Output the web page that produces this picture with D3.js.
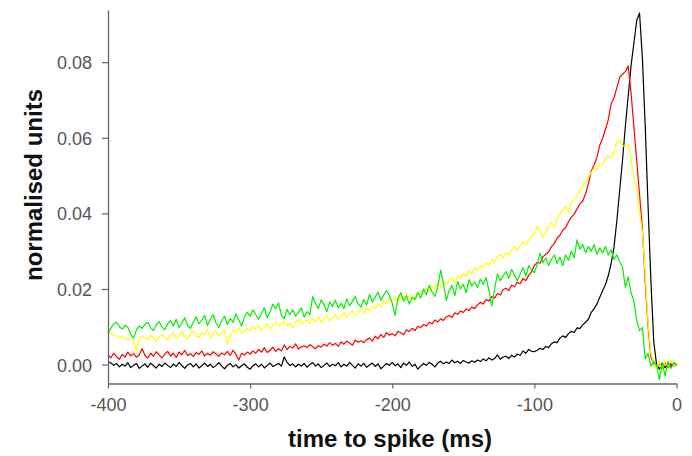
<!DOCTYPE html>
<html>
<head>
<meta charset="utf-8">
<script src="https://cdn.jsdelivr.net/npm/d3@7"></script>
<style>
  html, body { margin: 0; padding: 0; background: #fff; }
  svg { display: block; font-family: "Liberation Sans", Arial, sans-serif; }
</style>
</head>
<body>
<svg id="chart" width="692" height="456"></svg>
<script>
// Spike-triggered averages, 2 ms bins from -400 ms to 0 ms
const binStart = -400, binEnd = 0, binWidth = 2;

const blackTrace = [
  .0008,.0004,-.0002,.0003,-.0006,.0001,-.0004,.0005,-.0008,-.0002,
  .0003,-.0010,-.0004,.0002,-.0007,.0004,-.0003,-.0009,.0001,-.0005,
  .0004,-.0002,-.0008,.0002,-.0005,.0006,-.0003,-.0010,-.0001,.0003,
  -.0006,.0002,-.0009,-.0003,.0004,-.0005,.0001,-.0008,-.0002,.0005,
  -.0004,-.0011,-.0002,.0003,-.0006,.0000,-.0009,-.0003,.0002,-.0007,
  -.0012,-.0003,.0002,-.0006,.0001,-.0009,-.0002,.0004,-.0005,-.0001,
  .0003,-.0004,.0020,.0006,-.0003,.0002,-.0006,.0001,-.0004,.0003,
  -.0007,.0000,.0005,-.0004,.0002,-.0008,-.0002,.0004,-.0005,.0001,
  -.0003,.0005,-.0006,.0001,-.0004,.0006,-.0002,-.0009,.0002,-.0004,
  .0003,-.0007,-.0001,.0004,-.0005,.0002,-.0011,-.0004,.0003,-.0002,
  .0006,-.0003,.0002,-.0008,.0004,-.0002,.0007,-.0005,.0001,-.0012,
  -.0004,.0003,-.0002,.0006,.0001,-.0006,.0004,.0009,.0002,.0007,
  .0003,.0012,.0005,.0009,.0003,.0011,.0007,.0004,.0010,.0006,
  .0012,.0008,.0015,.0010,.0018,.0012,.0016,.0026,.0014,.0020,
  .0022,.0016,.0025,.0020,.0028,.0024,.0036,.0030,.0040,.0035,
  .0034,.0038,.0043,.0040,.0048,.0045,.0055,.0060,.0058,.0070,
  .0076,.0072,.0082,.0088,.0085,.0097,.0095,.0105,.0112,.0120,
  .0138,.0148,.0160,.0178,.0195,.0212,.0235,.0268,.0310,.0380,
  .0460,.0540,.0630,.0710,.0790,.0850,.0910,.0930,.0810,.0630,
  .0420,.0220,.0060,.0000,-.0012,.0004,-.0008,.0002,-.0005,.0003,
  -.0002
];

const redTrace = [
  .0026,.0018,.0030,.0021,.0014,.0027,.0020,.0033,.0023,.0029,
  .0019,.0026,.0042,.0024,.0017,.0030,.0022,.0034,.0025,.0018,
  .0028,.0035,.0022,.0030,.0019,.0033,.0026,.0038,.0024,.0029,
  .0021,.0032,.0027,.0036,.0023,.0030,.0025,.0034,.0028,.0022,
  .0031,.0026,.0035,.0024,.0038,.0027,.0012,.0030,.0025,.0033,
  .0028,.0036,.0030,.0040,.0033,.0045,.0032,.0038,.0046,.0035,
  .0042,.0036,.0052,.0040,.0048,.0044,.0055,.0041,.0047,.0050,
  .0045,.0053,.0047,.0042,.0050,.0046,.0054,.0049,.0058,.0051,
  .0056,.0048,.0060,.0054,.0062,.0057,.0051,.0065,.0059,.0063,
  .0058,.0066,.0070,.0062,.0075,.0068,.0080,.0072,.0085,.0078,
  .0082,.0076,.0088,.0084,.0079,.0092,.0087,.0096,.0090,.0101,
  .0098,.0106,.0102,.0112,.0108,.0118,.0113,.0121,.0117,.0126,
  .0130,.0125,.0137,.0133,.0142,.0138,.0147,.0143,.0152,.0148,
  .0158,.0165,.0160,.0172,.0168,.0180,.0176,.0188,.0184,.0198,
  .0202,.0196,.0210,.0206,.0218,.0214,.0228,.0222,.0236,.0245,
  .0262,.0270,.0268,.0285,.0292,.0298,.0312,.0320,.0335,.0342,
  .0356,.0362,.0378,.0390,.0398,.0412,.0425,.0432,.0452,.0478,
  .0512,.0528,.0548,.0580,.0598,.0622,.0648,.0690,.0705,.0732,
  .0760,.0768,.0775,.0790,.0720,.0630,.0540,.0450,.0360,.0220,
  .0100,.0020,.0002,-.0010,.0004,-.0015,.0006,-.0008,.0003,-.0004,
  .0002
];

const yellowTrace = [
  .0086,.0082,.0078,.0075,.0071,.0074,.0069,.0066,.0070,.0064,
  .0035,.0068,.0075,.0072,.0066,.0078,.0070,.0062,.0074,.0080,
  .0072,.0065,.0078,.0084,.0070,.0076,.0088,.0074,.0068,.0082,
  .0090,.0076,.0072,.0085,.0079,.0092,.0070,.0083,.0088,.0075,
  .0086,.0094,.0055,.0072,.0091,.0085,.0098,.0083,.0090,.0096,
  .0088,.0100,.0094,.0104,.0090,.0098,.0108,.0095,.0102,.0112,
  .0100,.0108,.0115,.0102,.0110,.0098,.0112,.0120,.0106,.0114,
  .0118,.0108,.0122,.0114,.0126,.0112,.0120,.0130,.0116,.0124,
  .0132,.0120,.0128,.0138,.0125,.0134,.0142,.0130,.0138,.0146,
  .0136,.0150,.0142,.0154,.0148,.0160,.0152,.0168,.0160,.0174,
  .0170,.0178,.0165,.0182,.0174,.0188,.0176,.0170,.0184,.0190,
  .0186,.0196,.0202,.0192,.0208,.0200,.0214,.0206,.0220,.0212,
  .0222,.0230,.0218,.0236,.0228,.0242,.0234,.0248,.0240,.0256,
  .0250,.0262,.0256,.0270,.0264,.0278,.0270,.0286,.0292,.0282,
  .0296,.0290,.0304,.0312,.0300,.0316,.0325,.0318,.0330,.0338,
  .0348,.0365,.0352,.0335,.0350,.0368,.0375,.0362,.0385,.0398,
  .0410,.0418,.0405,.0430,.0438,.0446,.0460,.0472,.0482,.0495,
  .0508,.0520,.0515,.0530,.0528,.0545,.0552,.0548,.0562,.0590,
  .0594,.0580,.0577,.0582,.0545,.0495,.0460,.0405,.0350,.0240,
  .0110,.0030,.0005,-.0012,.0008,-.0018,.0010,-.0006,.0012,-.0003,
  .0004
];

const greenTrace = [
  .0084,.0096,.0108,.0112,.0100,.0094,.0104,.0098,.0080,.0070,
  .0092,.0102,.0096,.0106,.0112,.0098,.0090,.0105,.0114,.0100,
  .0092,.0108,.0116,.0102,.0120,.0098,.0110,.0124,.0104,.0096,
  .0112,.0126,.0108,.0118,.0130,.0104,.0120,.0132,.0110,.0098,
  .0116,.0128,.0106,.0122,.0112,.0134,.0118,.0102,.0126,.0138,
  .0128,.0145,.0132,.0120,.0136,.0150,.0124,.0140,.0160,.0148,
  .0163,.0130,.0122,.0146,.0132,.0145,.0128,.0138,.0150,.0126,
  .0140,.0132,.0180,.0162,.0148,.0172,.0158,.0140,.0166,.0154,
  .0170,.0150,.0162,.0148,.0174,.0156,.0168,.0180,.0160,.0152,
  .0172,.0158,.0186,.0166,.0178,.0192,.0170,.0184,.0196,.0182,
  .0162,.0130,.0175,.0190,.0168,.0182,.0160,.0178,.0172,.0190,
  .0176,.0200,.0185,.0210,.0192,.0180,.0205,.0250,.0215,.0170,
  .0195,.0210,.0182,.0220,.0200,.0212,.0190,.0225,.0208,.0218,
  .0204,.0226,.0212,.0230,.0196,.0155,.0200,.0240,.0222,.0234,
  .0246,.0228,.0252,.0236,.0222,.0240,.0256,.0234,.0262,.0250,
  .0243,.0265,.0295,.0270,.0282,.0262,.0278,.0290,.0268,.0284,
  .0262,.0290,.0276,.0300,.0282,.0330,.0305,.0318,.0296,.0312,
  .0300,.0318,.0292,.0308,.0296,.0312,.0290,.0304,.0278,.0290,
  .0272,.0258,.0205,.0232,.0190,.0168,.0118,.0090,.0098,.0015,
  .0030,-.0004,.0008,-.0002,-.0040,.0004,-.0030,.0008,-.0010,.0005,
  .0002
];

const xTicks = [-400, -300, -200, -100, 0];
const yTicks = [0.00, 0.02, 0.04, 0.06, 0.08];
const xTitle = "time to spike (ms)";
const yTitle = "normalised units";

const series = [
  { name: "black",  color: "#000000", values: blackTrace },
  { name: "red",    color: "#ff0000", values: redTrace },
  { name: "yellow", color: "#ffff00", values: yellowTrace },
  { name: "green",  color: "#00ee00", values: greenTrace }
];

const times = d3.range(binStart, binEnd + binWidth / 2, binWidth);

const svg = d3.select("#chart");
const x = d3.scaleLinear().domain([-400, 0]).range([108, 676.5]);
const y = d3.scaleLinear().domain([-0.005, 0.0938]).range([383.5, 10]);

const line = d3.line()
  .x((d, i) => x(times[i]))
  .y(d => y(d));

// traces
svg.append("g").selectAll("path")
  .data(series)
  .join("path")
  .attr("fill", "none")
  .attr("stroke", d => d.color)
  .attr("stroke-width", 1.2)
  .attr("stroke-linejoin", "round")
  .attr("d", d => line(d.values));

const axisColor = "#666";
const labelColor = "#555";

// x axis (plain hyphen-minus in labels)
const xAxis = svg.append("g")
  .attr("transform", `translate(0,${y.range()[0]})`)
  .call(d3.axisBottom(x).tickValues(xTicks).tickFormat(d => String(d)).tickSize(5).tickSizeOuter(0).tickPadding(8));

// y axis
const yAxis = svg.append("g")
  .attr("transform", `translate(${x.range()[0]},0)`)
  .call(d3.axisLeft(y).tickValues(yTicks).tickFormat(d => d.toFixed(2)).tickSize(6).tickSizeOuter(0).tickPadding(10));

[xAxis, yAxis].forEach(g => {
  g.select(".domain").attr("stroke", axisColor).attr("stroke-width", 1.3);
  g.selectAll(".tick line").attr("stroke", axisColor).attr("stroke-width", 1.2);
  g.selectAll(".tick text")
    .attr("fill", labelColor)
    .style("font-size", "18px")
    .style("font-family", "'Liberation Sans', Arial, sans-serif");
});

xAxis.selectAll(".tick text").attr("dy", null).attr("y", 27);
yAxis.selectAll(".tick text").attr("dy", "0.36em");

// axis titles
svg.append("text")
  .attr("x", 390)
  .attr("y", 447)
  .attr("text-anchor", "middle")
  .style("font-size", "24px")
  .style("font-weight", "bold")
  .attr("fill", "#111")
  .text(xTitle);

svg.append("text")
  .attr("transform", "translate(42,185) rotate(-90)")
  .attr("text-anchor", "middle")
  .style("font-size", "24px")
  .style("font-weight", "bold")
  .attr("fill", "#111")
  .text(yTitle);
</script>
</body>
</html>
